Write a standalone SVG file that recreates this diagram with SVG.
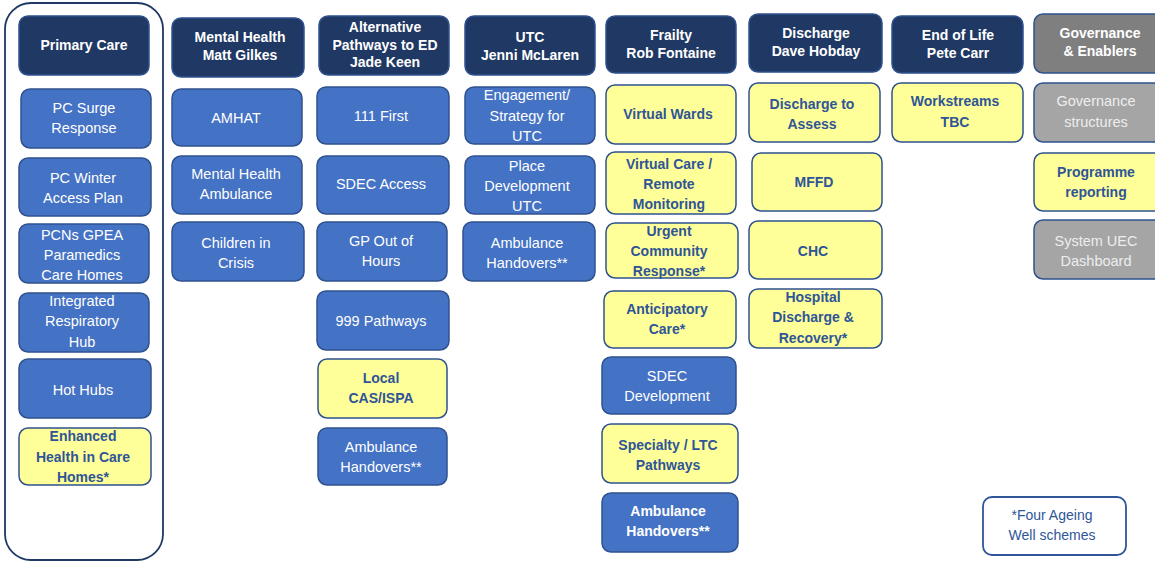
<svg xmlns="http://www.w3.org/2000/svg" width="1155" height="561" viewBox="0 0 1155 561">
<style>
text{font-family:"Liberation Sans","Open Sans",Arial,sans-serif;text-anchor:middle;dominant-baseline:central}
.hdr rect{fill:#203864;stroke:#2F528F;stroke-width:1.5}
.hdr text{fill:#FFFFFF;font-weight:bold;font-size:14px}
.ghdr rect{fill:#7F7F7F;stroke:#2F528F;stroke-width:1.5}
.ghdr text{fill:#FFFFFF;font-weight:bold;font-size:14px}
.blu rect{fill:#4472C4;stroke:#2F528F;stroke-width:1.5}
.blu text{fill:#FFFFFF;font-size:14.5px}
.blub text{font-weight:bold;font-size:14px}
.yel rect{fill:#FFFF99;stroke:#2F528F;stroke-width:1.5}
.yel text{fill:#2F5597;font-weight:bold;font-size:14px}
.gry rect{fill:#A5A5A5;stroke:#2F528F;stroke-width:1.5}
.gry text{fill:#EDEDED;font-size:14.5px}
.frame{fill:none;stroke:#203864;stroke-width:1.8}
.leg rect{fill:#FFFFFF;stroke:#2F5597;stroke-width:1.8}
.leg text{fill:#2F5597;font-size:14px}
</style>
<rect class="frame" x="5" y="3" width="158" height="557" rx="26"/>

<!-- Column 1: Primary Care -->
<g id="primary-care" class="hdr"><rect x="19" y="16" width="130" height="59" rx="9"/><text x="84" y="45">Primary Care</text></g>
<g id="pc-surge" class="blu"><rect x="21" y="89" width="130" height="59" rx="9"/><text x="84" y="108">PC Surge</text><text x="84" y="128">Response</text></g>
<g id="pc-winter" class="blu"><rect x="19" y="158" width="132" height="58" rx="9"/><text x="83" y="178">PC Winter</text><text x="83" y="198">Access Plan</text></g>
<g id="pcns" class="blu"><rect x="19" y="224" width="130" height="59" rx="9"/><text x="82" y="235">PCNs GPEA</text><text x="82" y="255">Paramedics</text><text x="82" y="275">Care Homes</text></g>
<g id="irh" class="blu"><rect x="19" y="293" width="130" height="59" rx="9"/><text x="82" y="301">Integrated</text><text x="82" y="321">Respiratory</text><text x="82" y="342">Hub</text></g>
<g id="hot-hubs" class="blu"><rect x="19" y="359" width="132" height="59" rx="9"/><text x="83" y="390">Hot Hubs</text></g>
<g id="ehch" class="yel"><rect x="19" y="428" width="132" height="57" rx="9"/><text x="83" y="436">Enhanced</text><text x="83" y="457">Health in Care</text><text x="83" y="477">Homes*</text></g>

<!-- Column 2: Mental Health -->
<g id="mental-health" class="hdr"><rect x="172" y="18" width="132" height="59" rx="9"/><text x="240" y="37">Mental Health</text><text x="240" y="55">Matt Gilkes</text></g>
<g id="amhat" class="blu"><rect x="172" y="89" width="130" height="57" rx="9"/><text x="236" y="118">AMHAT</text></g>
<g id="mh-ambulance" class="blu"><rect x="172" y="156" width="130" height="58" rx="9"/><text x="236" y="174">Mental Health</text><text x="236" y="194">Ambulance</text></g>
<g id="children-crisis" class="blu"><rect x="172" y="222" width="132" height="59" rx="9"/><text x="236" y="243">Children in</text><text x="236" y="263">Crisis</text></g>

<!-- Column 3: Alternative Pathways -->
<g id="alt-pathways" class="hdr"><rect x="319" y="16" width="130" height="59" rx="9"/><text x="385" y="27">Alternative</text><text x="385" y="45">Pathways to ED</text><text x="385" y="62">Jade Keen</text></g>
<g id="111-first" class="blu"><rect x="317" y="87" width="132" height="57" rx="9"/><text x="381" y="116">111 First</text></g>
<g id="sdec-access" class="blu"><rect x="317" y="156" width="132" height="58" rx="9"/><text x="381" y="184">SDEC Access</text></g>
<g id="gp-ooh" class="blu"><rect x="317" y="222" width="130" height="59" rx="9"/><text x="381" y="241">GP Out of</text><text x="381" y="261">Hours</text></g>
<g id="999-pathways" class="blu"><rect x="317" y="291" width="132" height="59" rx="9"/><text x="381" y="321">999 Pathways</text></g>
<g id="local-cas" class="yel"><rect x="318" y="359" width="129" height="59" rx="9"/><text x="381" y="378">Local</text><text x="381" y="398">CAS/ISPA</text></g>
<g id="amb-handovers-1" class="blu"><rect x="318" y="428" width="129" height="57" rx="9"/><text x="381" y="447">Ambulance</text><text x="381" y="467">Handovers**</text></g>

<!-- Column 4: UTC -->
<g id="utc" class="hdr"><rect x="465" y="16" width="130" height="59" rx="9"/><text x="530" y="37">UTC</text><text x="530" y="55">Jenni McLaren</text></g>
<g id="engagement" class="blu"><rect x="465" y="87" width="130" height="57" rx="9"/><text x="527" y="95">Engagement/</text><text x="527" y="116">Strategy for</text><text x="527" y="136">UTC</text></g>
<g id="place-dev" class="blu"><rect x="465" y="156" width="130" height="58" rx="9"/><text x="527" y="166">Place</text><text x="527" y="186">Development</text><text x="527" y="206">UTC</text></g>
<g id="amb-handovers-2" class="blu"><rect x="463" y="222" width="132" height="59" rx="9"/><text x="527" y="243">Ambulance</text><text x="527" y="263">Handovers**</text></g>

<!-- Column 5: Frailty -->
<g id="frailty" class="hdr"><rect x="606" y="16" width="130" height="57" rx="9"/><text x="671" y="35">Frailty</text><text x="671" y="53">Rob Fontaine</text></g>
<g id="virtual-wards" class="yel"><rect x="606" y="85" width="130" height="59" rx="9"/><text x="668" y="114">Virtual Wards</text></g>
<g id="virtual-care" class="yel"><rect x="606" y="152" width="130" height="62" rx="9"/><text x="669" y="164">Virtual Care /</text><text x="669" y="184">Remote</text><text x="669" y="204">Monitoring</text></g>
<g id="ucr" class="yel"><rect x="606" y="223" width="132" height="55" rx="9"/><text x="669" y="231">Urgent</text><text x="669" y="251">Community</text><text x="669" y="271">Response*</text></g>
<g id="anticipatory" class="yel"><rect x="604" y="291" width="132" height="57" rx="9"/><text x="667" y="309">Anticipatory</text><text x="667" y="329">Care*</text></g>
<g id="sdec-dev" class="blu"><rect x="602" y="357" width="134" height="57" rx="9"/><text x="667" y="376">SDEC</text><text x="667" y="396">Development</text></g>
<g id="specialty" class="yel"><rect x="602" y="424" width="136" height="59" rx="9"/><text x="668" y="445">Specialty / LTC</text><text x="668" y="465">Pathways</text></g>
<g id="amb-handovers-3" class="blu blub"><rect x="602" y="493" width="136" height="59" rx="9"/><text x="668" y="511">Ambulance</text><text x="668" y="531">Handovers**</text></g>

<!-- Column 6: Discharge -->
<g id="discharge" class="hdr"><rect x="749" y="14" width="133" height="58" rx="9"/><text x="816" y="33">Discharge</text><text x="816" y="51">Dave Hobday</text></g>
<g id="d2a" class="yel"><rect x="749" y="83" width="131" height="59" rx="9"/><text x="812" y="104">Discharge to</text><text x="812" y="124">Assess</text></g>
<g id="mffd" class="yel"><rect x="752" y="153" width="130" height="58" rx="9"/><text x="814" y="182">MFFD</text></g>
<g id="chc" class="yel"><rect x="749" y="221" width="133" height="58" rx="9"/><text x="813" y="251">CHC</text></g>
<g id="hdr-recovery" class="yel"><rect x="749" y="289" width="133" height="59" rx="9"/><text x="813" y="297">Hospital</text><text x="813" y="317">Discharge &amp;</text><text x="813" y="338">Recovery*</text></g>

<!-- Column 7: End of Life -->
<g id="end-of-life" class="hdr"><rect x="892" y="16" width="131" height="57" rx="9"/><text x="958" y="35">End of Life</text><text x="958" y="53">Pete Carr</text></g>
<g id="workstreams" class="yel"><rect x="892" y="83" width="131" height="59" rx="9"/><text x="955" y="101">Workstreams</text><text x="955" y="122">TBC</text></g>

<!-- Column 8: Governance -->
<g id="governance" class="ghdr"><rect x="1034" y="14" width="132" height="59" rx="9"/><text x="1100" y="33">Governance</text><text x="1100" y="51">&amp; Enablers</text></g>
<g id="gov-structures" class="gry"><rect x="1034" y="83" width="132" height="59" rx="9"/><text x="1096" y="101">Governance</text><text x="1096" y="122">structures</text></g>
<g id="prog-reporting" class="yel"><rect x="1034" y="153" width="132" height="58" rx="9"/><text x="1096" y="172">Programme</text><text x="1096" y="192">reporting</text></g>
<g id="uec-dashboard" class="gry"><rect x="1034" y="220" width="132" height="59" rx="9"/><text x="1096" y="241">System UEC</text><text x="1096" y="261">Dashboard</text></g>

<!-- Legend -->
<g id="legend" class="leg"><rect x="983" y="497" width="143" height="58" rx="9"/><text x="1052" y="515">*Four Ageing</text><text x="1052" y="535">Well schemes</text></g>
</svg>
